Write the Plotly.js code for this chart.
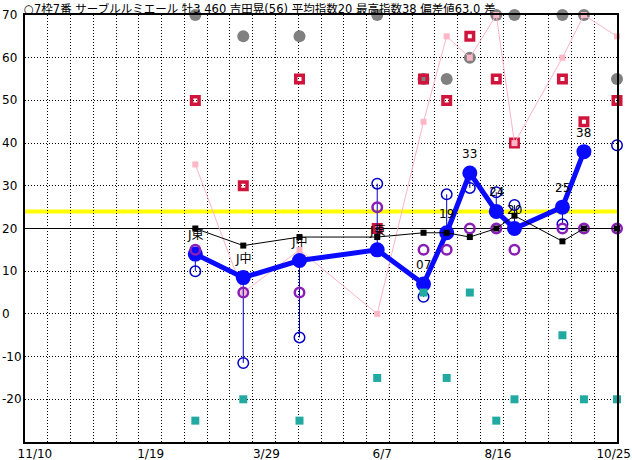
<!DOCTYPE html>
<html><head><meta charset="utf-8">
<script src="https://cdn.plot.ly/plotly-3.0.1.min.js"></script>
<style>html,body{margin:0;padding:0;background:#fff}#chart{width:632px;height:460px}</style>
</head><body><div id="chart"></div>
<script>
// ---- data ----
const raceDates = ['2020-02-15','2020-03-15','2020-04-18','2020-06-04','2020-07-02','2020-07-16','2020-07-30','2020-08-15','2020-08-26','2020-09-24','2020-10-07','2020-10-27'];
const mainIndex = [14, 8.5, 12.5, 15, 7, 19, 33, 24, 20, 25, 38, null];
const raceLabels = ['J東','J中','J中','J東','07','19','33','24','20','25','38',''];
const openIndex = [10, -11.5, -5.5, 30.5, 4, 28, 29.5, 28.5, 25.5, 21, null, 39.5];
const purpleIndex = [15, 5, 5, 25, 15, 15, 20, 20, 15, 20, 20, 20];
const blackIndex = [20, 16, 18, 18, 19, 19, 18, 20, 23, 17, 20, 20];
const grayIndex = [70, 65, 65, 70, 55, 55, 60, 70, 70, 70, 70, 55];
const redIndex = [50, 30, 55, 20, 55, 50, 65, 55, 40, 55, 45, 50];
const pinkIndex = [35, 5, 15, 0, 45, 65, 60, 70, 40, 60, 70, 65];
const tealIndex = [-25, -20, -25, -15, 5, -15, 5, -25, -20, -5, -20, -20];
const xTickVals = ['2019-11-10','2020-01-19','2020-03-29','2020-06-07','2020-08-16','2020-10-25'];
const xTickText = ['11/10','1/19','3/29','6/7','8/16','10/25'];
const yTickVals = [70, 60, 50, 40, 30, 20, 10, 0, -10, -20];
const xRange = ['2019-11-04', '2020-10-27'];
const yRange = [-30, 70];
const avgIndex = 20;
const refLevel = 24;
const titleText = '○7枠7番 サーブルルミエール 牡3 460 吉田晃(56) 平均指数20 最高指数38 偏差値63.0 差';

// ---- build ----
const FONT = "'DejaVu Sans', 'Noto Sans CJK JP', sans-serif";
const connX = [], connY = [];
raceDates.forEach((d, i) => {
  if (mainIndex[i] != null && openIndex[i] != null) {
    connX.push(d, d, null); connY.push(mainIndex[i], openIndex[i], null);
  }
});
const base = {cliponaxis: false, hoverinfo: 'skip', showlegend: false};
const traces = [
  Object.assign({}, base, {x: raceDates, y: grayIndex, mode: 'markers', marker: {symbol: 'circle', size: 12, color: '#808080'}}),
  Object.assign({}, base, {x: raceDates, y: redIndex, mode: 'markers', marker: {symbol: 'square-open', size: 7.5, color: '#d0143c', line: {width: 3.5}}}),
  Object.assign({}, base, {x: raceDates, y: pinkIndex, mode: 'lines+markers', line: {color: '#ffb4c4', width: 1}, marker: {symbol: 'square', size: 6, color: '#ffb6c6'}}),
  Object.assign({}, base, {x: connX, y: connY, mode: 'lines', line: {color: '#0000c8', width: 1}}),
  Object.assign({}, base, {x: raceDates, y: openIndex, mode: 'markers', marker: {symbol: 'circle-open', size: 10.5, color: '#0000c8', line: {width: 1.5}}}),
  Object.assign({}, base, {x: raceDates, y: mainIndex, mode: 'lines+markers', connectgaps: false, line: {color: '#0a0aff', width: 5}, marker: {symbol: 'circle', size: 15, color: '#0a0aff'}}),
  Object.assign({}, base, {x: raceDates, y: purpleIndex, mode: 'markers', marker: {symbol: 'circle-open', size: 9.5, color: '#8a1fb8', line: {width: 2.5}}}),
  Object.assign({}, base, {x: raceDates, y: blackIndex, mode: 'lines+markers', line: {color: '#000', width: 1}, marker: {symbol: 'square', size: 6, color: '#000'}}),
  Object.assign({}, base, {x: raceDates, y: tealIndex, mode: 'markers', marker: {symbol: 'square', size: 8, color: '#22aaa2'}})
];
const annotations = [];
yTickVals.forEach(v => annotations.push({xref: 'paper', x: -24/592, xanchor: 'left', yref: 'y', y: v, yanchor: 'middle', text: String(v), showarrow: false, borderpad: 0, font: {family: FONT, size: 12, color: '#000'}}));
raceDates.forEach((d, i) => {
  if (mainIndex[i] != null && raceLabels[i]) annotations.push({x: d, y: mainIndex[i], yshift: 19, text: raceLabels[i], showarrow: false, xanchor: 'center', yanchor: 'middle', borderpad: 0, font: {family: FONT, size: 12, color: '#000'}});
});
const layout = {
  width: 632, height: 460,
  margin: {l: 25, r: 15, t: 15, b: 18, pad: 0},
  paper_bgcolor: '#fff', plot_bgcolor: '#fff',
  font: {family: FONT, size: 12, color: '#000'},
  title: {text: titleText, xref: 'container', x: 24/632, xanchor: 'left', yref: 'container', y: 1 - 9/460, yanchor: 'middle', font: {family: FONT, size: 11.5, color: '#000'}},
  xaxis: {type: 'date', range: xRange, tickmode: 'array', tickvals: xTickVals, ticktext: xTickText, showgrid: false, ticks: '', zeroline: false,
    showline: true, linecolor: '#000', linewidth: 2, mirror: true, tickfont: {family: FONT, size: 12, color: '#000'},
    minor: {tick0: xRange[0], dtick: 358 / 26 * 86400000, showgrid: true, gridcolor: '#000', gridwidth: 1, griddash: '1px,2px', ticks: ''}},
  yaxis: {range: yRange, tickmode: 'array', tickvals: yTickVals, showticklabels: false, showgrid: true, gridcolor: '#000', gridwidth: 1, griddash: '1px,2px',
    zeroline: false, ticks: '', showline: true, linecolor: '#000', linewidth: 2, mirror: true},
  shapes: [
    {type: 'line', xref: 'paper', x0: 0, x1: 1, yref: 'y', y0: refLevel, y1: refLevel, line: {color: '#ffff00', width: 4}, layer: 'between'},
    {type: 'line', xref: 'paper', x0: 0, x1: 1, yref: 'y', y0: avgIndex, y1: avgIndex, line: {color: '#000', width: 1}, layer: 'between'}
  ],
  annotations: annotations,
  hovermode: false
};
Plotly.newPlot('chart', traces, layout, {displayModeBar: false, staticPlot: true});
</script></body></html>
